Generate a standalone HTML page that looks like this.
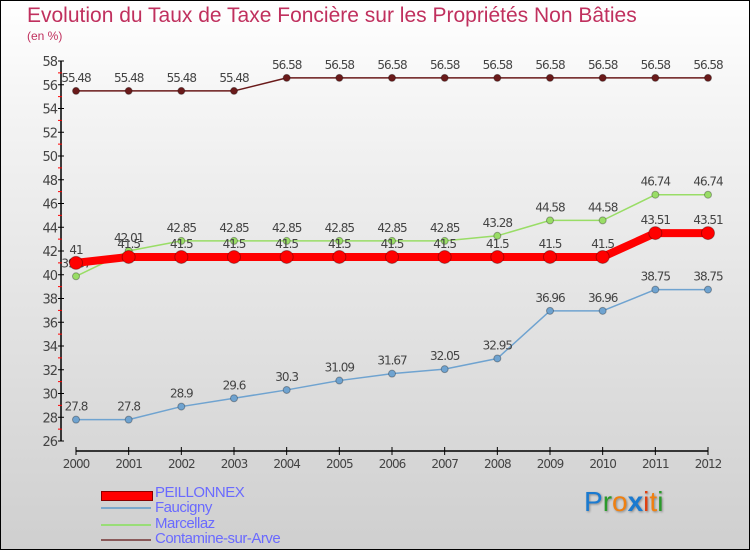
<!DOCTYPE html>
<html><head><meta charset="utf-8"><style>
body{margin:0}
#c{width:748px;height:548px;border:1px solid #000;position:relative;overflow:hidden;background:linear-gradient(#fff,#f4f4f4 20%,#cfcfcf);font-family:"DejaVu Sans","Liberation Sans",sans-serif}
.t{position:absolute;color:#c0305e;font-family:"Liberation Sans",sans-serif}
.lg{position:absolute;left:154px;font-size:15px;color:#6a6aff;letter-spacing:-0.5px;font-family:"Liberation Sans",sans-serif}
.sw{position:absolute;left:100px;width:50px}
</style></head><body>
<div id="c">
<div class="t" style="left:26px;top:3px;font-size:21px">Evolution du Taux de Taxe Foncière sur les Propriétés Non Bâties</div>
<div class="t" style="left:26px;top:28px;font-size:12px">(en %)</div>
<svg id="s" width="748" height="548" style="position:absolute;left:0;top:0"></svg>
<div class="sw" style="top:490px;height:8px;background:#f00;border:1px solid #800"></div>
<div class="lg" style="top:483px">PEILLONNEX</div>
<div class="sw" style="top:506px;height:2px;background:#7aa8cc"></div>
<div class="lg" style="top:498px">Faucigny</div>
<div class="sw" style="top:523px;height:2px;background:#99dd77"></div>
<div class="lg" style="top:514px">Marcellaz</div>
<div class="sw" style="top:538px;height:2px;background:#8a5a5a"></div>
<div class="lg" style="top:529px">Contamine-sur-Arve</div>
<div style="position:absolute;left:583px;top:485px;font-size:28px;text-shadow:1px 1px 2px #888;font-family:'Liberation Sans',sans-serif"><span style="color:#1a7ad0">P</span><span style="color:#2a9a2a">r</span><span style="color:#f08010">o</span><span style="color:#1a7ad0;font-weight:bold">x</span><span style="color:#e04010">i</span><span style="color:#f08010">t</span><span style="color:#2a9a2a">i</span></div>
</div>
<script>
const years=[2000,2001,2002,2003,2004,2005,2006,2007,2008,2009,2010,2011,2012];
const yTicks=[26,28,30,32,34,36,38,40,42,44,46,48,50,52,54,56,58];
const peillonnex=[41,41.5,41.5,41.5,41.5,41.5,41.5,41.5,41.5,41.5,41.5,43.51,43.51];
const faucigny=[27.8,27.8,28.9,29.6,30.3,31.09,31.67,32.05,32.95,36.96,36.96,38.75,38.75];
const marcellaz=[39.87,42.01,42.85,42.85,42.85,42.85,42.85,42.85,43.28,44.58,44.58,46.74,46.74];
const contamine=[55.48,55.48,55.48,55.48,56.58,56.58,56.58,56.58,56.58,56.58,56.58,56.58,56.58];
const s=document.getElementById('s'),NS='http://www.w3.org/2000/svg';
const X=i=>75+i*(707-75)/12, Y=v=>440-(v-26)*380/32;
function el(t,a,p){const e=document.createElementNS(NS,t);for(const k in a)e.setAttribute(k,a[k]);(p||s).appendChild(e);return e;}
let e;
e=el('line',{x1:60,y1:60,x2:60,y2:440,stroke:'#000','stroke-width':1.5});

e=el('line',{x1:75,y1:450,x2:707,y2:450,stroke:'#000','stroke-width':1.5});

yTicks.forEach((v,i)=>{
 el('line',{x1:57,y1:Y(v),x2:63,y2:Y(v),stroke:'#000'});
 if(i<yTicks.length-1)el('line',{x1:57,y1:Y(v+1),x2:61,y2:Y(v+1),stroke:'#f00'});
 e=el('text',{x:56,y:Y(v)+5,'text-anchor':'end','font-size':13,fill:'#444','letter-spacing':'-1'});e.textContent=v;
 
});
years.forEach((yr,i)=>{
 el('line',{x1:X(i),y1:446,x2:X(i),y2:454,stroke:'#000'});
 e=el('text',{x:X(i),y:467,'text-anchor':'middle','font-size':12,fill:'#444','letter-spacing':'-1'});e.textContent=yr;
 
});
function series(d,col,w,r,name){
 const g=el('g',{});
 el('polyline',{points:d.map((v,i)=>X(i)+','+Y(v)).join(' '),fill:'none',stroke:col,'stroke-width':w,'stroke-linejoin':'round'},g);
 d.forEach((v,i)=>{
  const c=el('circle',{cx:X(i),cy:Y(v),r:r,fill:col,stroke:'rgba(0,0,0,0.3)'},g);
  
  const t=el('text',{x:X(i),y:Y(v)-9,'text-anchor':'middle','font-size':12,fill:'#444','letter-spacing':'-1'},g);t.textContent=v;
 });
}
series(contamine,'#6a1a1a',1.5,3.5,'contamine');
series(faucigny,'#6fa3d0',1.5,3.5,'faucigny');
series(marcellaz,'#99dd66',1.5,3.5,'marcellaz');
series(peillonnex,'#ff0000',8,6.5,'peillonnex');
</script>
</body></html>
